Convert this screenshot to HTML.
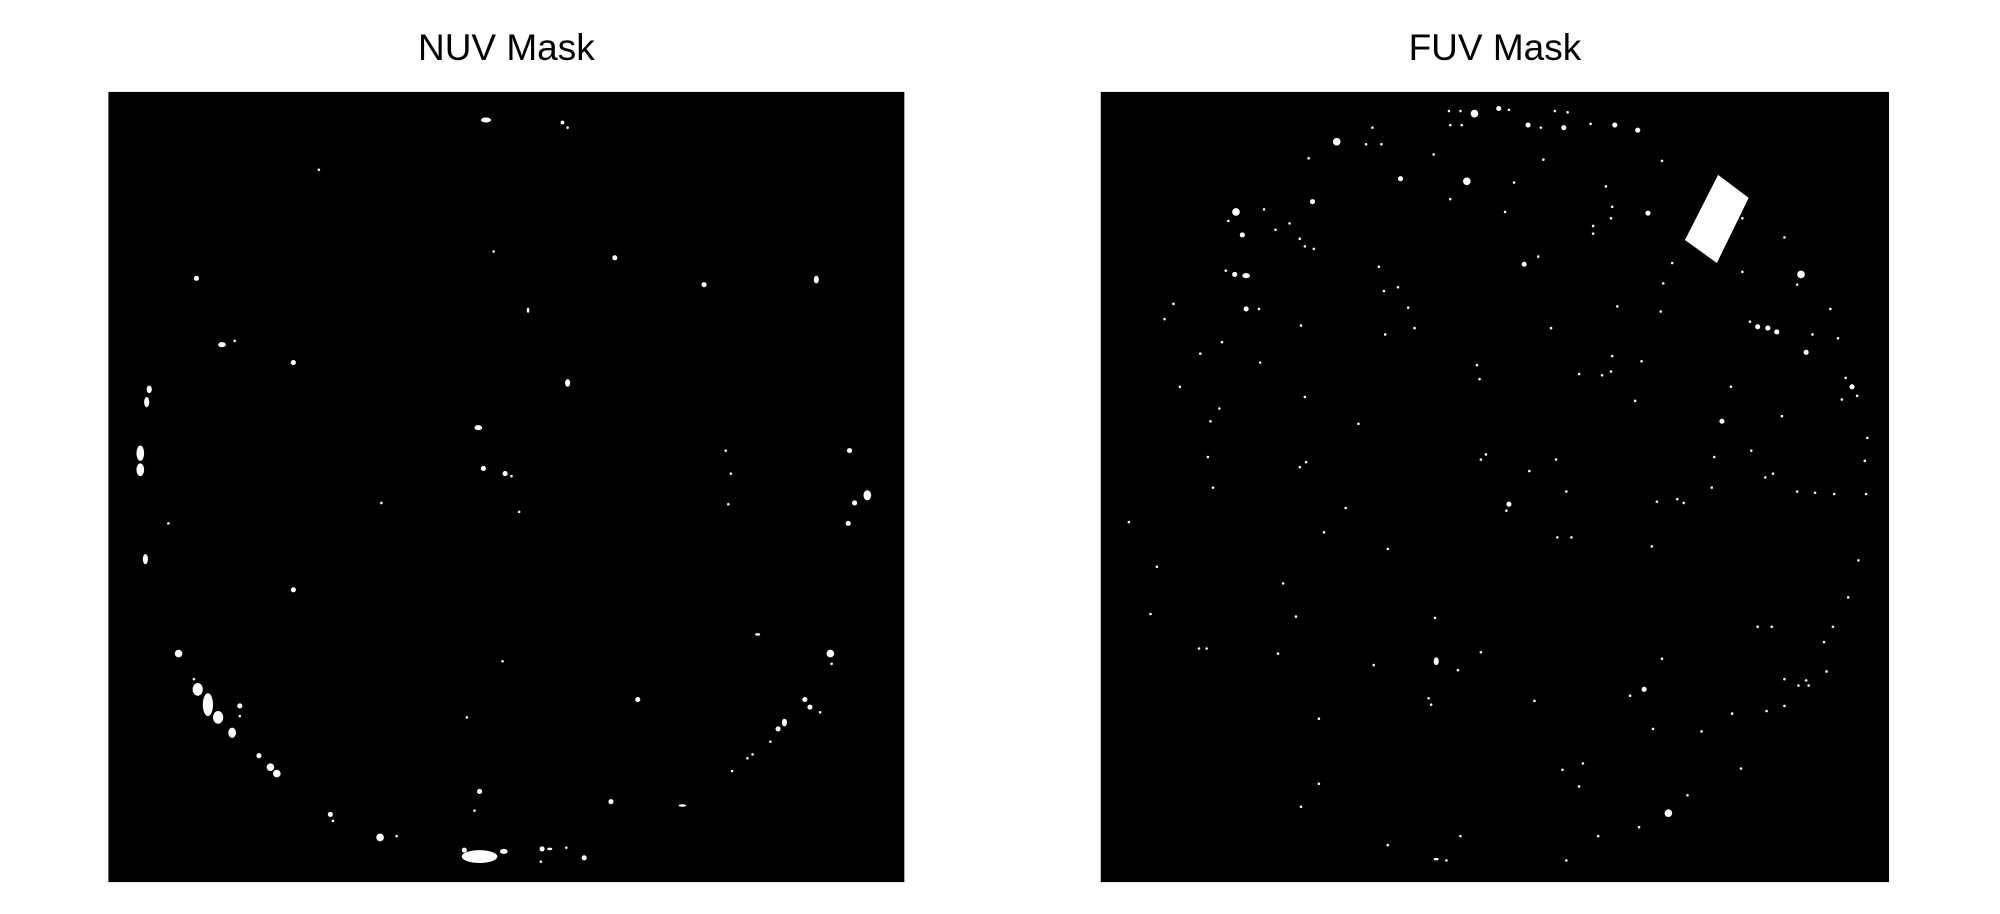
<!DOCTYPE html>
<html><head><meta charset="utf-8"><style>
html,body{margin:0;padding:0;background:#fff;}
svg{display:block;}
</style></head><body>
<svg id="fig" width="2000" height="914" viewBox="0 0 1568 716" preserveAspectRatio="none" xmlns="http://www.w3.org/2000/svg">
<text x="397" y="47" text-anchor="middle" font-family="Liberation Sans, sans-serif" font-size="29" fill="#000">NUV Mask</text>
<text x="1172" y="47" text-anchor="middle" font-family="Liberation Sans, sans-serif" font-size="29" fill="#000">FUV Mask</text>
<rect x="85" y="72" width="624" height="619" fill="#000"/>
<rect x="863" y="72" width="618" height="619" fill="#000"/>
<polygon points="1347,137 1371,155 1346,206 1321,188" fill="#fff"/>
<g id="nuv"></g><g id="fuv"></g>
</svg>
<script>
// NUV sources: x, y, rx, ry (display coords)
const nuvSources=[[381,94,4,2],[441,96,1.5,1.5],[445,100,1,1],[250,133,1,1],[387,197,1,1],[482,202,2,2],[154,218,2,2],[552,223,2,2],[640,219,2,3],[414,243,1,2],[174,270,3,2],[184,267,1,1],[230,284,2,2],[445,300,2,3],[117,305,2,3],[115,315,2,4],[375,335,3,2],[110,355,3,6],[110,368,3,5],[569,353,1,1],[666,353,2,2],[379,367,2,2],[396,371,2,2],[401,373,1,1],[573,371,1,1],[680,388,3,4],[670,394,2,2],[299,394,1,1],[407,401,1,1],[571,395,1,1],[665,410,2,2],[132,410,1,1],[114,438,2,4],[230,462,2,2],[594,497,2,1],[140,512,3,3],[651,512,3,3],[652,520,1,1],[394,518,1,1],[152,532,1,1],[155,540,4,5],[163,552,4,9],[171,562,4,5],[188,553,2,2],[188,561,1,1],[500,548,2,2],[631,548,2,2],[635,554,2,2],[643,558,1,1],[366,562,1,1],[182,574,3,4],[615,566,2,3],[610,571,2,2],[604,581,1,1],[203,592,2,2],[590,591,1,1],[212,601,3,3],[217,606,3,3],[586,594,1,1],[574,604,1,1],[376,620,2,2],[479,628,2,2],[535,631,3,1],[372,635,1,1],[259,638,2,2],[261,643,1,1],[298,656,3,3],[311,655,1,1],[376,671,14,5],[364,666,2,2],[395,667,3,2],[425,665,2,2],[431,665,2,1],[444,664,1,1],[424,675,1,1],[458,672,2,2]];
// FUV sources
const fuvSources=[[1136,87,1,1],[1145,87,1,1],[1156,89,3,3],[1175,85,2,2],[1183,86,1,1],[1219,87,1,1],[1229,88,1,1],[1137,98,1,1],[1146,98,1,1],[1198,98,2,2],[1208,100,1,1],[1226,100,2,2],[1247,97,1,1],[1266,98,2,2],[1284,102,2,2],[1048,111,3,3],[1076,100,1,1],[1071,113,1,1],[1083,113,1,1],[1124,121,1,1],[1026,124,1,1],[1210,125,1,1],[1303,126,1,1],[1098,140,2,2],[1150,142,3,3],[1187,143,1,1],[1259,146,1,1],[1137,156,1,1],[1029,158,2,2],[991,164,1,1],[969,166,3,3],[1180,166,1,1],[1264,162,1,1],[1292,167,2,2],[1263,171,1,1],[1249,177,1,1],[1366,171,1,1],[963,173,1,1],[1011,175,1,1],[1000,180,1,1],[1019,187,1,1],[974,184,2,2],[1023,193,1,1],[1030,195,1,1],[1399,186,1,1],[1249,183,1,1],[1206,201,1,1],[1195,207,2,2],[1311,206,1,1],[1366,213,1,1],[1412,215,3,3],[1081,209,1,1],[1085,228,1,1],[1096,225,1,1],[1304,222,1,1],[1409,223,1,1],[961,212,1,1],[968,215,2,2],[977,216,3,2],[920,238,1,1],[977,242,2,2],[987,242,1,1],[1268,240,1,1],[1302,244,1,1],[1372,252,1,1],[1378,256,2,2],[1386,257,2,2],[1393,260,2,2],[1435,242,1,1],[913,250,1,1],[1104,241,1,1],[1020,255,1,1],[1109,257,1,1],[1216,257,1,1],[1086,262,1,1],[1421,262,1,1],[1441,265,1,1],[958,268,1,1],[941,277,1,1],[1416,276,2,2],[988,284,1,1],[1264,279,1,1],[1287,283,1,1],[1158,286,1,1],[1263,291,1,1],[1256,294,1,1],[1160,297,1,1],[1238,293,1,1],[1447,296,1,1],[1452,303,2,2],[1456,310,1,1],[1444,313,1,1],[1282,314,1,1],[925,303,1,1],[1023,311,1,1],[1357,303,1,1],[956,320,1,1],[949,330,1,1],[1065,332,1,1],[1350,330,2,2],[1397,326,1,1],[1464,343,1,1],[947,358,1,1],[1161,360,1,1],[1165,356,1,1],[1024,362,1,1],[1019,366,1,1],[1220,360,1,1],[1462,361,1,1],[1344,358,1,1],[1373,353,1,1],[1199,369,1,1],[1384,374,1,1],[1390,371,1,1],[1463,387,1,1],[951,382,1,1],[1228,385,1,1],[1409,385,1,1],[1423,386,1,1],[1438,387,1,1],[1342,382,1,1],[1299,393,1,1],[1315,391,1,1],[1320,394,1,1],[1183,395,2,2],[1181,400,1,1],[1055,398,1,1],[885,409,1,1],[1038,417,1,1],[1221,421,1,1],[1232,421,1,1],[1295,428,1,1],[1088,430,1,1],[1457,439,1,1],[907,444,1,1],[1006,457,1,1],[1449,468,1,1],[902,481,1,1],[1016,483,1,1],[1125,484,1,1],[1378,491,1,1],[1389,491,1,1],[1437,491,1,1],[1430,503,1,1],[940,508,1,1],[946,508,1,1],[1002,512,1,1],[1161,511,1,1],[1126,518,2,3],[1303,516,1,1],[1077,521,1,1],[1143,525,1,1],[1432,526,1,1],[1399,532,1,1],[1416,533,1,1],[1418,537,1,1],[1410,537,1,1],[1289,540,2,2],[1278,545,1,1],[1120,547,1,1],[1122,552,1,1],[1203,549,1,1],[1034,563,1,1],[1399,553,1,1],[1385,557,1,1],[1358,559,1,1],[1296,571,1,1],[1334,573,1,1],[1241,598,1,1],[1225,603,1,1],[1365,602,1,1],[1034,614,1,1],[1238,616,1,1],[1323,623,1,1],[1020,632,1,1],[1308,637,3,3],[1285,648,1,1],[1253,655,1,1],[1145,655,1,1],[1088,662,1,1],[1126,673,2,1],[1134,674,1,1],[1228,674,1,1]];
function drawDots(gid,arr,prefix){
  const g=document.getElementById(gid);
  arr.forEach((d,i)=>{
    const e=document.createElementNS('http://www.w3.org/2000/svg','ellipse');
    e.setAttribute('cx',d[0]);e.setAttribute('cy',d[1]);
    e.setAttribute('rx',d[2]);e.setAttribute('ry',d[3]);
    e.setAttribute('fill','#fff');
    
    
    g.appendChild(e);
  });
}
drawDots('nuv',nuvSources,'nuv');
drawDots('fuv',fuvSources,'fuv');
</script>
</body></html>
